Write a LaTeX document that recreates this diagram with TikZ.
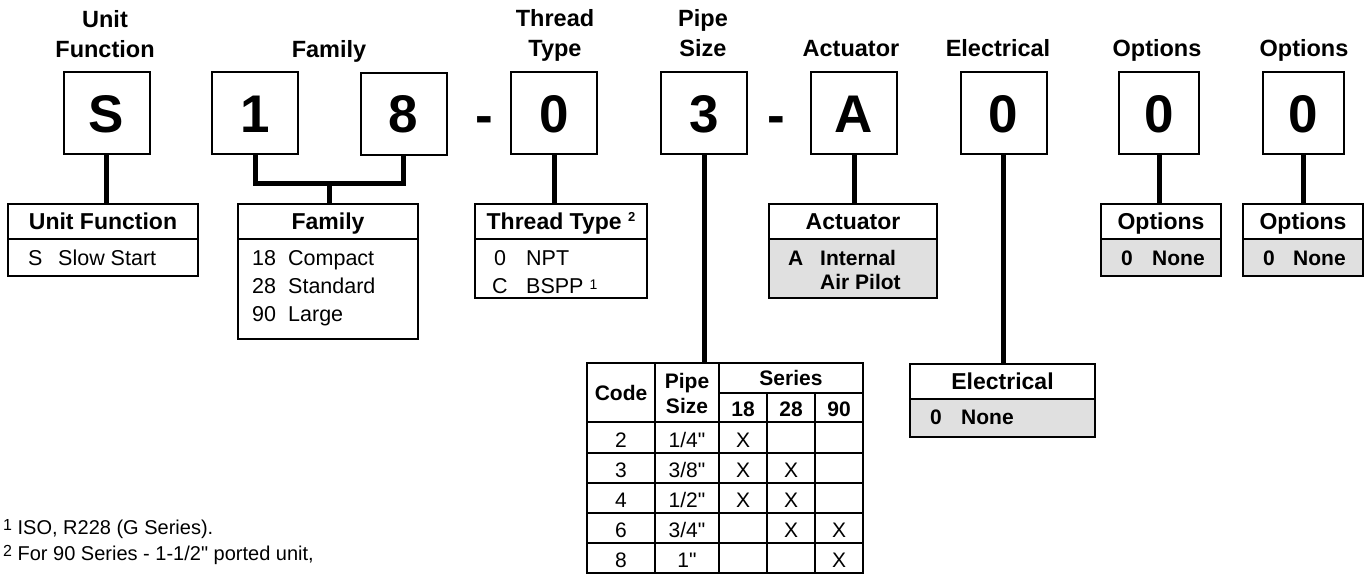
\documentclass[tikz,border=0pt]{standalone}
\usepackage{fontspec}
\setmainfont{Liberation Sans}[Ligatures=TeXOff]
\usetikzlibrary{positioning}
\definecolor{panelgray}{RGB}{224,224,224}
\newcommand\supnum[3][4pt]{\raisebox{#1}{\fontsize{#2}{#2}\selectfont #3}}

\tikzset{
  codebox/.style={draw,line width=2pt,minimum width=86,minimum height=82,inner sep=0pt,outer sep=0pt,
    font=\fontsize{53}{60}\selectfont\bfseries,text height=38pt,text depth=0pt},
  dashmark/.style={inner sep=0pt,anchor=base,font=\fontsize{53}{60}\selectfont\bfseries},
  header/.style={font=\fontsize{23.5}{30}\selectfont\bfseries,align=center,anchor=base,inner sep=0pt},
  titlebox/.style={draw,line width=2.4pt,minimum height=35,inner sep=0pt,outer sep=0pt,anchor=north,
    font=\fontsize{23}{28}\selectfont\bfseries,text height=16.5pt,text depth=0pt},
  bodybox/.style={draw,line width=2.4pt,inner sep=0pt,outer sep=0pt,anchor=north},
  graybody/.style={bodybox,fill=panelgray},
  entry/.style={font=\fontsize{21.5}{26}\selectfont,inner sep=0pt,anchor=base west},
  boldentry/.style={entry,font=\fontsize{21}{25}\selectfont\bfseries},
  link/.style={line width=5pt},
  rule/.style={line width=1.4pt},
  tabhead/.style={font=\fontsize{21}{25}\selectfont\bfseries,inner sep=0pt,anchor=base,align=center},
  tabcell/.style={font=\fontsize{21}{25}\selectfont,inner sep=0pt,anchor=base},
  note/.style={font=\fontsize{20}{26}\selectfont,inner sep=0pt,anchor=base west}
}

\begin{document}
\begin{tikzpicture}[x=1pt,y=-1pt]
  \useasboundingbox (0,0) rectangle (1368,574);

  % model code
  \node[codebox] (uf) at (106.5,113) {S};
  \node[codebox] (fam1) at (255,113) {1};
  \node[codebox] (fam8) at (403.5,113.5) {8};
  \node[dashmark] (dash1) at (484,133) {-};
  \node[codebox] (thr) at (554,113) {0};
  \node[codebox] (pipe) at (704,113) {3};
  \node[dashmark] (dash2) at (776.5,133) {-};
  \node[codebox] (act) at (854,113) {A};
  \node[codebox] (elec) at (1003.5,113) {0};
  \node[codebox,minimum width=80] (opt1) at (1159,113) {0};
  \node[codebox,minimum width=81] (opt2) at (1303.5,113) {0};

  \node[header] (ufh) at (105,57) {Unit\\Function};
  \node[header] (famh) at (329,57) {Family};
  \node[header] (thrh) at (555,56) {Thread\\Type};
  \node[header] (pipeh) at (703,56) {Pipe\\Size};
  \node[header] (acth) at (851,56) {Actuator};
  \node[header] (elech) at (998,56) {Electrical};
  \node[header] (opt1h) at (1157,56) {Options};
  \node[header] (opt2h) at (1304,56) {Options};

  % legend boxes
  \node[titlebox,minimum width=190] (uft) at (103,204) {Unit Function};
  \node[bodybox,minimum width=190,minimum height=37,below=0pt of uft] (ufb) {};
  \node[entry] (ufs) at (28,265) {S};
  \node[entry] (ufsd) at (58,265) {Slow Start};

  \node[titlebox,minimum width=180] (famt) at (328,204) {Family};
  \node[bodybox,minimum width=180,minimum height=100,below=0pt of famt] (famb) {};
  \node[entry] (fam18) at (252,265) {18};
  \node[entry] (fam18d) at (288,265) {Compact};
  \node[entry] (fam28) at (252,293) {28};
  \node[entry] (fam28d) at (288,293) {Standard};
  \node[entry] (fam90) at (252,321) {90};
  \node[entry] (fam90d) at (288,321) {Large};

  \node[titlebox,minimum width=172] (thrt) at (561,204) {Thread Type \supnum[8pt]{13}{2}};
  \node[bodybox,minimum width=172,minimum height=59,below=0pt of thrt] (thrb) {};
  \node[entry,anchor=base] (thr0) at (500,265) {0};
  \node[entry] (thr0d) at (526,265) {NPT};
  \node[entry,anchor=base] (thrc) at (500,293) {C};
  \node[entry] (thrcd) at (526,293) {BSPP \supnum{14}{1}};

  \node[titlebox,minimum width=168] (actt) at (853,204) {Actuator};
  \node[graybody,minimum width=168,minimum height=59,below=0pt of actt] (actb) {};
  \node[boldentry] (acta) at (788,265) {A};
  \node[boldentry] (actad) at (820,265) {Internal};
  \node[boldentry] (actad2) at (820,289) {Air Pilot};

  \node[titlebox,minimum width=185] (elect) at (1002.5,364) {Electrical};
  \node[graybody,minimum width=185,minimum height=38,below=0pt of elect] (elecb) {};
  \node[boldentry] (elec0) at (930,424) {0};
  \node[boldentry] (elec0d) at (961,424) {None};

  \node[titlebox,minimum width=120] (opt1t) at (1161,204) {Options};
  \node[graybody,minimum width=120,minimum height=37,below=0pt of opt1t] (opt1b) {};
  \node[boldentry] (opt10) at (1121,265) {0};
  \node[boldentry] (opt10d) at (1152,265) {None};

  \node[titlebox,minimum width=120] (opt2t) at (1303,204) {Options};
  \node[graybody,minimum width=120,minimum height=37,below=0pt of opt2t] (opt2b) {};
  \node[boldentry] (opt20) at (1263,265) {0};
  \node[boldentry] (opt20d) at (1293,265) {None};

  % pipe size table
  \node[draw,line width=2.2pt,minimum width=276,minimum height=210,inner sep=0pt,outer sep=0pt,
    anchor=north west] (tbl) at (587,363) {};
  \draw[rule] (719,393) -- (863,393);
  \draw[rule,line width=2.6pt] (587,422) -- (863,422);
  \foreach \yy in {453,483,513,543}
    \draw[rule] (587,\yy) -- (863,\yy);
  \foreach \xx in {655,719}
    \draw[rule] (\xx,363) -- (\xx,573);
  \foreach \xx in {767,815}
    \draw[rule] (\xx,393) -- (\xx,573);
  \node[tabhead] (codeh) at (621,400) {Code};
  \node[tabhead] (sizeh) at (687,413) {Pipe\\Size};
  \node[tabhead] (serh) at (791,385) {Series};
  \foreach \s/\xx in {18/743,28/791,90/839}
    \node[tabhead] (ser\s) at (\xx,416) {\s};
  \foreach \r/\c/\p in {1/2/{1/4"},2/3/{3/8"},3/4/{1/2"},4/6/{3/4"},5/8/{1"}} {
    \node[tabcell] (code\c) at (621,{417+30*\r}) {\c};
    \node[tabcell] (size\c) at (687,{417+30*\r}) {\p};
  }
  \foreach \yy/\xx in {447/743,477/743,477/791,507/743,507/791,537/791,537/839,567/839}
    \node[tabcell] (mark\yy\xx) at (\xx,\yy) {X};

  % connectors
  \draw[link] (uf.south) -- (uf.south |- uft.north);
  \coordinate (famjoin) at (329,183);
  \draw[link] (fam1.south) |- (famjoin) -| (fam8.south);
  \draw[link] (famjoin) -- (famjoin |- famt.north);
  \draw[link] (thr.south) -- (thr.south |- thrt.north);
  \draw[link] (pipe.south) -- (pipe.south |- tbl.north);
  \draw[link] (act.south) -- (act.south |- actt.north);
  \draw[link] (elec.south) -- (elec.south |- elect.north);
  \draw[link] (opt1.south) -- (opt1.south |- opt1t.north);
  \draw[link] (opt2.south) -- (opt2.south |- opt2t.north);

  % footnotes
  \node[note] (note1) at (3,534) {\supnum{16}{1} ISO, R228 (G Series).};
  \node[note] (note2) at (3,560) {\supnum{16}{2} For 90 Series - 1-1/2" ported unit,};
\end{tikzpicture}
\end{document}
